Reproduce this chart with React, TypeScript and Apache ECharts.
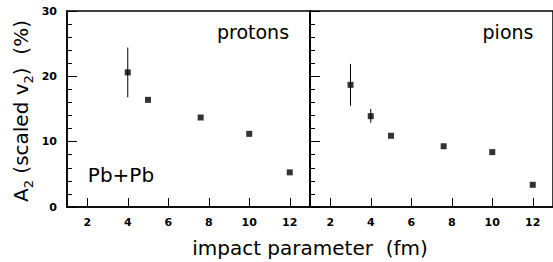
import React, { useEffect, useRef } from "react";
import * as echarts from "echarts";

const protonB = [4, 5, 7.6, 10, 12];
const protonA2 = [20.6, 16.4, 13.7, 11.2, 5.3];
const protonErrLo = [16.8, null, null, null, null];
const protonErrHi = [24.4, null, null, null, null];

const pionB = [3, 4, 5, 7.6, 10, 12];
const pionA2 = [18.7, 13.9, 10.9, 9.3, 8.4, 3.4];
const pionErrLo = [15.5, 12.9, null, null, null, null];
const pionErrHi = [21.9, 15.0, null, null, null, null];

const xTicks = [2, 4, 6, 8, 10, 12];

const FONT = "DejaVu Sans, Liberation Sans, Arial, sans-serif";

function errData(xs: number[], lo: (number | null)[], hi: (number | null)[]) {
  const out: number[][] = [];
  xs.forEach((x, i) => {
    if (lo[i] != null && hi[i] != null) out.push([x, lo[i] as number, hi[i] as number]);
  });
  return out;
}

const errRender = (params: any, api: any) => {
  const p1 = api.coord([api.value(0), api.value(1)]);
  const p2 = api.coord([api.value(0), api.value(2)]);
  return {
    type: "line",
    shape: { x1: p1[0], y1: p1[1], x2: p2[0], y2: p2[1] },
    style: { stroke: "#000", lineWidth: 1 },
  };
};

export default function App() {
  const ref = useRef<HTMLDivElement>(null);
  useEffect(() => {
    if (!ref.current) return;
    const chart = echarts.init(ref.current, null, { renderer: "svg" });
    const xAxisBase = (gridIndex: number) => ({
      type: "value",
      gridIndex,
      min: 1,
      max: 13,
      axisLine: { show: true, lineStyle: { color: "#000", width: 1.5 } },
      axisTick: {
        show: true,
        inside: true,
        length: 9,
        customValues: xTicks,
        lineStyle: { color: "#000", width: 1 },
      },
      axisLabel: {
        show: true,
        customValues: xTicks,
        color: "#000",
        fontWeight: "bold",
        fontSize: 11,
        fontFamily: FONT,
        margin: 10,
      },
      splitLine: { show: false },
    });
    const yAxisBase = (gridIndex: number, showLabel: boolean) => ({
      type: "value",
      gridIndex,
      min: 0,
      max: 30,
      interval: 10,
      axisLine: { show: true, lineStyle: { color: "#000", width: 1.5 } },
      axisTick: { show: true, inside: true, length: 10, lineStyle: { color: "#000" } },
      minorTick: { show: true, splitNumber: 5, length: 5, lineStyle: { color: "#000" } },
      axisLabel: {
        show: showLabel,
        color: "#000",
        fontWeight: "bold",
        fontSize: 11,
        fontFamily: FONT,
        margin: 10,
      },
      splitLine: { show: false },
    });
    chart.setOption({
      animation: false,
      grid: [
        { left: 67, top: 11, width: 243, height: 196, show: true, borderColor: "#000", borderWidth: 1.5, backgroundColor: "transparent" },
        { left: 310, top: 11, width: 246, height: 196, show: true, borderColor: "#000", borderWidth: 1.5, backgroundColor: "transparent" },
      ],
      xAxis: [xAxisBase(0), xAxisBase(1)],
      yAxis: [yAxisBase(0, true), yAxisBase(1, false)],
      series: [
        {
          type: "custom",
          xAxisIndex: 0,
          yAxisIndex: 0,
          renderItem: errRender,
          data: errData(protonB, protonErrLo, protonErrHi),
          z: 2,
        },
        {
          type: "custom",
          xAxisIndex: 1,
          yAxisIndex: 1,
          renderItem: errRender,
          data: errData(pionB, pionErrLo, pionErrHi),
          z: 2,
        },
        {
          type: "scatter",
          xAxisIndex: 0,
          yAxisIndex: 0,
          symbol: "rect",
          symbolSize: 6,
          itemStyle: { color: "#000" },
          data: protonB.map((x, i) => [x, protonA2[i]]),
          z: 3,
        },
        {
          type: "scatter",
          xAxisIndex: 1,
          yAxisIndex: 1,
          symbol: "rect",
          symbolSize: 6,
          itemStyle: { color: "#000" },
          data: pionB.map((x, i) => [x, pionA2[i]]),
          z: 3,
        },
      ],
      graphic: [
        {
          type: "text",
          x: 253,
          y: 32,
          style: { text: "protons", fontSize: 19, fontFamily: FONT, fill: "#000", align: "center", verticalAlign: "middle" },
        },
        {
          type: "text",
          x: 508,
          y: 32,
          style: { text: "pions", fontSize: 19, fontFamily: FONT, fill: "#000", align: "center", verticalAlign: "middle" },
        },
        {
          type: "text",
          x: 121,
          y: 175,
          style: { text: "Pb+Pb", fontSize: 20, fontFamily: FONT, fill: "#000", align: "center", verticalAlign: "middle" },
        },
        {
          type: "text",
          x: 310,
          y: 248,
          style: {
            text: "impact parameter  (fm)",
            fontSize: 20,
            fontFamily: FONT,
            fill: "#000",
            align: "center",
            verticalAlign: "middle",
          },
        },
        {
          type: "text",
          x: 21,
          y: 111,
          rotation: Math.PI / 2,
          style: {
            text: "{a|A}{s|2}{a| (scaled v}{s|2}{a|)  (%)}",
            align: "center",
            verticalAlign: "middle",
            fill: "#000",
            rich: {
              a: { fontSize: 20, fontFamily: FONT, fill: "#000", verticalAlign: "bottom" },
              s: { fontSize: 13, fontFamily: FONT, fill: "#000", verticalAlign: "bottom", padding: [0, 0, -4, 0] },
            },
          },
        },
      ],
    });
    return () => chart.dispose();
  }, []);
  return (
    <div
      ref={ref}
      style={{ position: "fixed", left: 0, top: 0, width: 553, height: 262, background: "#fff" }}
    />
  );
}
